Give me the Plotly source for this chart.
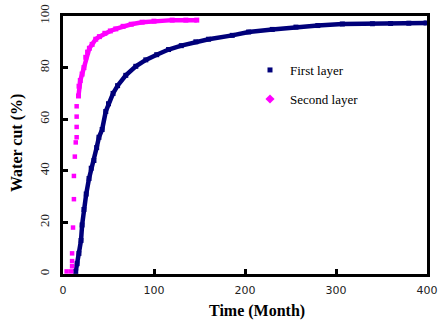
import plotly.graph_objects as go

# First layer (navy)
first_x = [14, 15.5, 17.5, 19.8, 21, 23, 25.5, 28.6, 31, 34, 37, 39.5, 43, 47, 50, 55, 60, 69, 80, 91, 103, 116, 130, 146, 160, 186, 204, 230, 256, 280, 307, 340, 360, 380, 399]
first_y = [1, 4, 8, 13, 19, 25, 31, 37, 41, 44, 49, 53, 56, 63, 66, 70, 73, 77, 80.5, 83, 85, 87, 88.5, 90, 91, 92.5, 93.8, 94.8, 95.7, 96.3, 96.9, 97, 97.1, 97.2, 97.3]

# Second layer (magenta): sparse early points, then dense band
second_sparse_x = [4, 9, 10, 10, 10, 11, 12, 12, 13, 14, 15, 15, 15, 15]
second_sparse_y = [1, 1, 3, 5, 8, 18, 29, 38, 45.5, 51, 53, 57, 61, 65]
second_x = [17, 17.6, 19, 21, 23, 25, 27, 29, 32, 36, 40, 46, 52, 58, 66, 75, 87, 100, 120, 135, 147]
second_y = [69, 72.8, 75, 77.5, 80, 84, 86, 87.5, 89, 91, 92, 93.3, 94.2, 95, 96, 96.8, 97.6, 98, 98.4, 98.4, 98.4]

x_ticks = [0, 100, 200, 300, 400]
y_ticks = [0, 20, 40, 60, 80, 100]

navy = "#00007a"
pink = "#ff00ff"
SERIF = "Liberation Serif"

fig = go.Figure()
fig.add_trace(go.Scatter(x=first_x, y=first_y, mode="lines+markers",
                         line=dict(color=navy, width=4.5),
                         marker=dict(symbol="square", size=5, color=navy),
                         showlegend=False))
fig.add_trace(go.Scatter(x=second_sparse_x, y=second_sparse_y, mode="markers",
                         marker=dict(symbol="square", size=4.5, color=pink),
                         showlegend=False))
fig.add_trace(go.Scatter(x=second_x, y=second_y, mode="lines+markers",
                         line=dict(color=pink, width=4.5),
                         marker=dict(symbol="square", size=5, color=pink),
                         showlegend=False))
# legend-only traces
fig.add_trace(go.Scatter(x=[None], y=[None], mode="markers", name="First layer",
                         marker=dict(symbol="square", size=5, color=navy), legend="legend"))
fig.add_trace(go.Scatter(x=[None], y=[None], mode="markers", name="Second layer",
                         marker=dict(symbol="diamond", size=7, color=pink), legend="legend2"))

pw = 438 - 63 - 11
ph = 322 - 16 - 48

def px(x):
    return (x - 63) / pw

def py(y):
    return (322 - 48 - y) / ph

legend_common = dict(xanchor="left", yanchor="middle", bgcolor="rgba(0,0,0,0)",
                     font=dict(family=SERIF, size=13, color="black"), itemwidth=30)

fig.update_layout(
    width=438, height=322,
    margin=dict(l=63, r=11, t=16, b=48, autoexpand=False),
    paper_bgcolor="white", plot_bgcolor="white",
    font=dict(family=SERIF, color="black", size=12),
    legend=dict(x=px(250), y=py(70), **legend_common),
    legend2=dict(x=px(250), y=py(99), **legend_common),
    xaxis=dict(range=[0, 400], tickvals=x_ticks, ticktext=[str(v) for v in x_ticks],
               showline=True, linewidth=3, linecolor="black", mirror=True,
               ticks="inside", ticklen=5, tickwidth=3, tickcolor="black",
               showgrid=False, zeroline=False, automargin=False,
               tickfont=dict(family="DejaVu Sans", size=11, color="#222"),
               ticklabelstandoff=4),
    yaxis=dict(range=[0, 100], tickvals=y_ticks, ticktext=[str(v) for v in y_ticks],
               showline=True, linewidth=3, linecolor="black", mirror=True,
               ticks="inside", ticklen=5, tickwidth=3, tickcolor="black",
               showgrid=False, zeroline=False, tickangle=-90, automargin=False,
               tickfont=dict(family=SERIF, size=13, color="#222"),
               ticklabelstandoff=6),
    annotations=[
        dict(text="<b>Time (Month)</b>", x=px(257), y=py(311), xref="paper", yref="paper",
             xanchor="center", yanchor="middle",
             showarrow=False, font=dict(family=SERIF, size=16)),
        dict(text="<b>Water cut (%)</b>", x=px(17), y=py(143), xref="paper", yref="paper",
             xanchor="center", yanchor="middle",
             showarrow=False, textangle=-90, font=dict(family=SERIF, size=16)),
    ],
)

fig.write_html("out.html")
